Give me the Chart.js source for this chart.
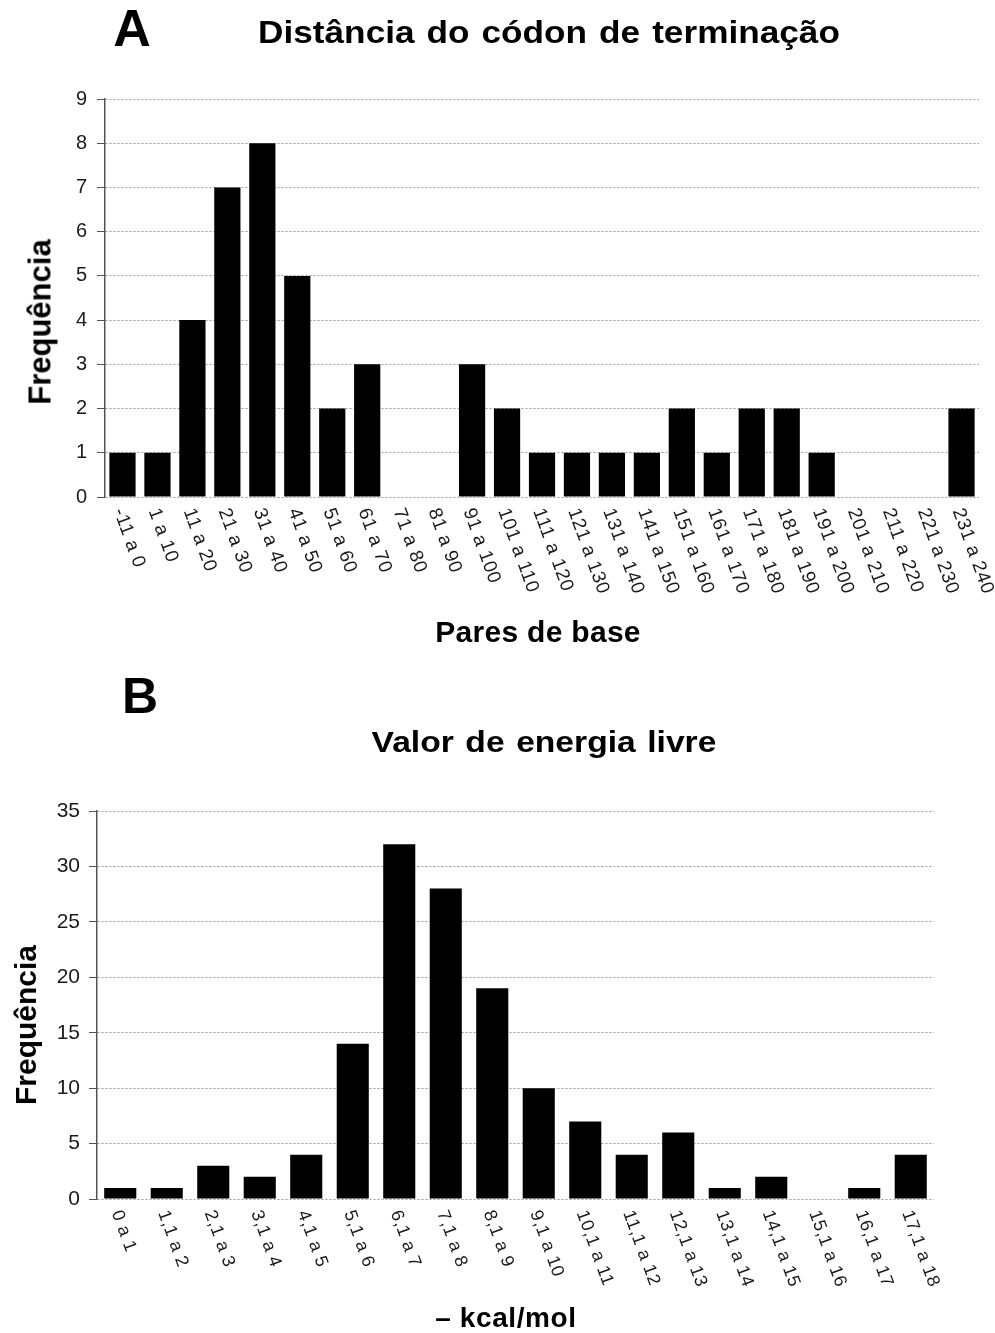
<!DOCTYPE html>
<html>
<head>
<meta charset="utf-8">
<script src="https://cdn.jsdelivr.net/npm/chart.js@4.4.1/dist/chart.umd.min.js"></script>
<style>
    body { margin: 0; background: #fff; font-family: "Liberation Sans", Arial, sans-serif; }
    #page { position: relative; width: 995px; height: 1333px; overflow: hidden; background: #fff; }
    canvas { position: absolute; left: 0; }
    .txt { position: absolute; font-weight: bold; color: #000; white-space: nowrap; line-height: 1; transform: translate(-50%, -50%); }
    .rot { transform: translate(-50%, -50%) rotate(-90deg); }
</style>
</head>
<body>
<div id="page">
    <canvas id="chartA" width="995" height="660" style="top:0"></canvas>
    <canvas id="chartB" width="995" height="673" style="top:660px"></canvas>

    <div class="txt" style="left:132px; top:28px; font-size:52px;">A</div>
    <div class="txt" style="left:549px; top:32px; font-size:32px; transform:translate(-50%,-50%) scaleX(1.1); word-spacing:2px;">Distância do códon de terminação</div>
    <div class="txt rot" style="left:40px; top:322px; font-size:31px;">Frequência</div>
    <div class="txt" style="left:538px; top:632px; font-size:30px; letter-spacing:0.3px;">Pares de base</div>

    <div class="txt" style="left:140px; top:696px; font-size:50px;">B</div>
    <div class="txt" style="left:544px; top:742px; font-size:30px; transform:translate(-50%,-50%) scaleX(1.12); word-spacing:2px;">Valor de energia livre</div>
    <div class="txt rot" style="left:26px; top:1025px; font-size:30px;">Frequência</div>
    <div class="txt" style="left:506px; top:1318px; font-size:28px; letter-spacing:0.6px;">– kcal/mol</div>
</div>

<script>
// Gráfico A: distância do códon de terminação
const distLabels = ["-11 a 0", "1 a 10", "11 a 20", "21 a 30", "31 a 40", "41 a 50", "51 a 60",
    "61 a 70", "71 a 80", "81 a 90", "91 a 100", "101 a 110", "111 a 120", "121 a 130",
    "131 a 140", "141 a 150", "151 a 160", "161 a 170", "171 a 180", "181 a 190",
    "191 a 200", "201 a 210", "211 a 220", "221 a 230", "231 a 240"];
const distFreq = [1, 1, 4, 7, 8, 5, 2, 3, 0, 0, 3, 2, 1, 1, 1, 1, 2, 1, 2, 2, 1, 0, 0, 0, 2];
const distTicks = [0, 1, 2, 3, 4, 5, 6, 7, 8, 9];

// Gráfico B: valor de energia livre
const energyLabels = ["0 a 1", "1,1 a 2", "2,1 a 3", "3,1 a 4", "4,1 a 5", "5,1 a 6", "6,1 a 7",
    "7,1 a 8", "8,1 a 9", "9,1 a 10", "10,1 a 11", "11,1 a 12", "12,1 a 13", "13,1 a 14",
    "14,1 a 15", "15,1 a 16", "16,1 a 17", "17,1 a 18"];
const energyFreq = [1, 1, 3, 2, 4, 14, 32, 28, 19, 10, 7, 4, 6, 1, 2, 0, 1, 4];
const energyTicks = [0, 5, 10, 15, 20, 25, 30, 35];

const FONT = '"Liberation Sans", Arial, sans-serif';

/**
 * Desenha os rótulos do eixo x inclinados (lidos de cima para baixo),
 * usando a posição de cada categoria calculada pela escala.
 */
const slantedTicks = {
    id: 'slantedTicks',
    afterDraw(chart, args, opts) {
        const xScale = chart.scales.x;
        const ctx = chart.ctx;
        const base = chart.chartArea.bottom;
        ctx.save();
        ctx.font = opts.size + 'px ' + FONT;
        ctx.letterSpacing = opts.spacing + 'px';
        ctx.fillStyle = '#1a1a1a';
        ctx.textAlign = 'left';
        ctx.textBaseline = 'middle';
        chart.data.labels.forEach((label, i) => {
            ctx.save();
            ctx.translate(xScale.getPixelForValue(i) + opts.dx, base + opts.dy);
            ctx.rotate(opts.angle * Math.PI / 180);
            ctx.fillText(label, 0, 0);
            ctx.restore();
        });
        ctx.restore();
    }
};

function makeChart(id, labels, values, ticks, cfg) {
    return new Chart(document.getElementById(id), {
        type: 'bar',
        data: {
            labels: labels,
            datasets: [{
                data: values,
                backgroundColor: '#000',
                borderWidth: 0,
                barPercentage: cfg.barPct,
                categoryPercentage: 1
            }]
        },
        options: {
            responsive: false,
            animation: false,
            layout: { padding: cfg.padding },
            plugins: {
                legend: { display: false },
                tooltip: { enabled: false },
                title: { display: false },
                slantedTicks: { size: cfg.xFont, spacing: 0.6, dx: cfg.dx, dy: cfg.dy, angle: 70 }
            },
            scales: {
                x: {
                    display: true,
                    grid: { display: false },
                    border: { display: false },
                    ticks: { display: false },
                    afterFit(scale) { scale.height = 0; }
                },
                y: {
                    min: ticks[0],
                    max: ticks[ticks.length - 1],
                    afterBuildTicks(scale) { scale.ticks = ticks.map(v => ({ value: v })); },
                    afterFit(scale) { scale.width = cfg.axisLeft; },
                    ticks: {
                        font: { family: FONT, size: cfg.yFont },
                        color: '#1a1a1a',
                        padding: cfg.yPad
                    },
                    grid: {
                        color: '#9a9a9a',
                        lineWidth: 1,
                        tickColor: '#555',
                        tickLength: 8,
                        tickBorderDash: []
                    },
                    border: { display: true, color: '#555', width: 1.5, dash: [2, 2] }
                }
            }
        },
        plugins: [slantedTicks]
    });
}

makeChart('chartA', distLabels, distFreq, distTicks, {
    barPct: 0.75,
    axisLeft: 105,
    padding: { top: 99, right: 16, bottom: 163, left: 0 },
    yFont: 20, yPad: 10, xFont: 19, dx: -4, dy: 12
});

makeChart('chartB', energyLabels, energyFreq, energyTicks, {
    barPct: 0.69,
    axisLeft: 97,
    padding: { top: 151, right: 61, bottom: 134, left: 0 },
    yFont: 21, yPad: 9, xFont: 18, dx: -4, dy: 12
});
</script>
</body>
</html>
